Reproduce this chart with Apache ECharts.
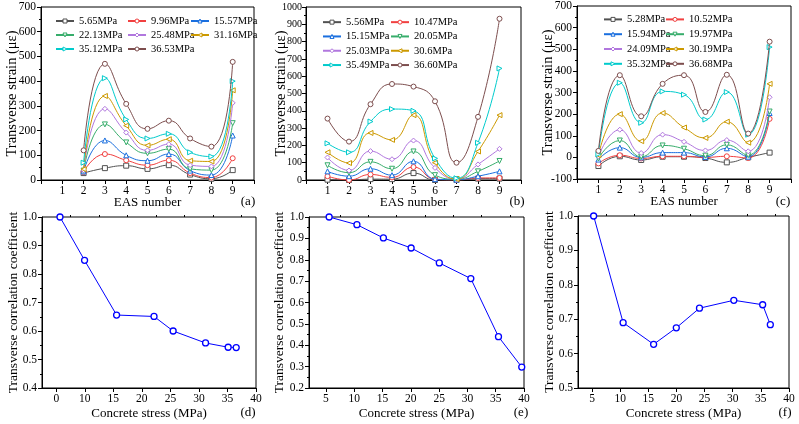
<!DOCTYPE html>
<html>
<head>
<meta charset="utf-8">
<script src="https://cdn.jsdelivr.net/npm/echarts@6/dist/echarts.min.js"></script>
<style>
  html, body { margin: 0; padding: 0; background: #fff; }
  #main { width: 799px; height: 424px; }
</style>
</head>
<body>
<div id="main"></div>
<script>
// EAS numbers along the x axis of the top panels
var easNumbers = [1, 2, 3, 4, 5, 6, 7, 8, 9];

// panel (a)
var namesA = ['5.65MPa', '9.96MPa', '15.57MPa', '22.13MPa', '25.48MPa', '31.16MPa', '35.12MPa', '36.53MPa'];
var strainA = [
  [null, 28, 48, 58, 45, 60, 22, 5, 40],
  [null, 32, 105, 80, 60, 80, 28, 10, 88],
  [null, 35, 160, 100, 78, 105, 38, 20, 180],
  [null, 38, 225, 152, 108, 125, 45, 40, 230],
  [null, 40, 288, 192, 120, 145, 60, 55, 312],
  [null, 44, 340, 220, 140, 165, 78, 75, 363],
  [null, 70, 412, 245, 168, 187, 112, 95, 400],
  [null, 120, 470, 308, 207, 240, 168, 135, 478]
];

// panel (b)
var namesB = ['5.56MPa', '10.47MPa', '15.15MPa', '20.05MPa', '25.03MPa', '30.6MPa', '35.49MPa', '36.60MPa'];
var strainB = [
  [2, 0, 5, 5, 40, 0, 0, 8, 8],
  [22, 0, 32, 15, 75, 4, 0, 12, 12],
  [50, 22, 65, 28, 108, 5, 2, 22, 50],
  [85, 42, 105, 65, 165, 28, 5, 50, 110],
  [130, 55, 167, 120, 228, 70, 5, 90, 180],
  [160, 98, 272, 232, 375, 100, 5, 165, 375],
  [212, 160, 338, 410, 400, 125, 10, 215, 645],
  [355, 222, 438, 555, 540, 455, 100, 365, 932]
];

// panel (c)
var namesC = ['5.28MPa', '10.52MPa', '15.94MPa', '19.97MPa', '24.09MPa', '30.19MPa', '35.32MPa', '36.68MPa'];
var strainC = [
  [-40, 5, -12, 3, 3, -3, -23, 0, 22],
  [-28, 10, -5, 5, 5, 0, 5, -3, 178],
  [-10, 45, 0, 22, 22, 2, 42, 3, 205],
  [-5, 78, 3, 55, 40, 8, 58, 10, 212],
  [5, 128, 20, 105, 72, 32, 80, 28, 278],
  [10, 200, 75, 205, 138, 90, 165, 68, 340],
  [15, 345, 160, 305, 290, 175, 302, 105, 510],
  [30, 380, 190, 340, 380, 210, 382, 110, 535]
];

// panels (d), (e), (f): concrete stress vs correlation coefficient
var stressD = [5.65, 9.96, 15.57, 22.13, 25.48, 31.16, 35.12, 36.53];
var coefD = [1.0, 0.848, 0.656, 0.651, 0.600, 0.558, 0.543, 0.542];
var stressE = [5.56, 10.47, 15.15, 20.05, 25.03, 30.6, 35.49, 39.6];
var coefE = [1.0, 0.964, 0.902, 0.855, 0.785, 0.712, 0.440, 0.298];
var stressF = [5.28, 10.52, 15.94, 19.97, 24.09, 30.19, 35.32, 36.68];
var coefF = [1.0, 0.690, 0.627, 0.675, 0.732, 0.755, 0.742, 0.684];

var stressTicks = [5, 10, 15, 20, 25, 30, 35, 40];
var stressMinor = [7.5, 12.5, 17.5, 22.5, 27.5, 32.5, 37.5];

var colors = ['#515151', '#F14040', '#1A6FDF', '#37AD6B', '#B177DE', '#CC9900', '#00CBCC', '#7D4E4E'];
var symbols = ['rect', 'circle', 'triangle', 'triangle', 'diamond', 'triangle', 'triangle', 'circle'];
var rotates = [0, 0, 0, 180, 0, 90, -90, 0];

var FONT = 'Liberation Serif';
var mychart = echarts.init(document.getElementById('main'));

function axisBase() {
  return {
    axisLine: { show: true, onZero: false, lineStyle: { color: '#000', width: 1 } },
    axisTick: { show: true, inside: false, length: 4, lineStyle: { color: '#000' } },
    axisLabel: { color: '#000', fontFamily: FONT, fontSize: 11.5, margin: 5 },
    splitLine: { show: false },
    nameMoveOverlap: false,
    nameTextStyle: { color: '#000', fontFamily: FONT, fontSize: 13 }
  };
}

var grids = [
  { left: 41, top: 7, width: 213, height: 173 },
  { left: 306, top: 7, width: 215, height: 173 },
  { left: 577, top: 6, width: 214, height: 173 },
  { left: 42, top: 217, width: 214, height: 171 },
  { left: 309, top: 217, width: 215, height: 171 },
  { left: 578, top: 216, width: 211, height: 172 }
];
grids.forEach(function (g) {
  g.show = true;
  g.borderColor = '#000';
  g.borderWidth = 1;
  g.containLabel = false;
});

var xAxes = [];
var yAxes = [];

// top x axes: EAS number
for (var i = 0; i < 3; i++) {
  var xa = axisBase();
  xa.type = 'value';
  xa.gridIndex = i;
  xa.min = 0;
  xa.max = 10;
  xa.interval = 1;
  xa.name = 'EAS number';
  xa.nameLocation = 'middle';
  xa.nameGap = 16;
  xa.axisLabel.formatter = function (v) { return (v >= 1 && v <= 9) ? String(v) : ''; };
  xAxes.push(xa);
}
// bottom x axes: concrete stress
var stressMins = [2.5, 2, 2.5];
for (var j = 0; j < 3; j++) {
  var xb = axisBase();
  xb.type = 'value';
  xb.gridIndex = 3 + j;
  xb.min = stressMins[j];
  xb.max = 40;
  xb.name = 'Concrete stress (MPa)';
  xb.nameLocation = 'middle';
  xb.nameGap = 19;
  xb.axisTick.customValues = stressTicks;
  xb.axisLabel.customValues = stressTicks;
  if (j === 0) {
    xb.axisLabel.formatter = function (v) { return v === 5 ? '0' : String(v); };
  }
  xAxes.push(xb);
}
// bottom minor tick axes
for (var k = 0; k < 3; k++) {
  xAxes.push({
    type: 'value',
    gridIndex: 3 + k,
    min: stressMins[k],
    max: 40,
    axisLine: { show: false, onZero: false },
    axisLabel: { show: false },
    splitLine: { show: false },
    axisTick: { show: true, length: 2, customValues: stressMinor, lineStyle: { color: '#000' } }
  });
}

var yRanges = [[0, 700, 100], [0, 1000, 100], [-100, 700, 100], [0.4, 1.0, 0.1], [0.2, 1.0, 0.1], [0.5, 1.0, 0.1]];
var yNameGaps = [21, 17, 21, 22, 23, 22];
for (var m = 0; m < 6; m++) {
  var ya = axisBase();
  ya.type = 'value';
  ya.gridIndex = m;
  ya.min = yRanges[m][0];
  ya.max = yRanges[m][1];
  ya.interval = yRanges[m][2];
  ya.name = m < 3 ? 'Transverse strain (\u03bc\u03b5)' : 'Transverse correlation coefficient';
  ya.nameLocation = 'middle';
  ya.nameGap = yNameGaps[m];
  ya.nameTextStyle.fontSize = m < 3 ? 14.5 : 13.5;
  ya.minorTick = { show: true, splitNumber: 2, length: 2, lineStyle: { color: '#000' } };
  if (m >= 3) {
    ya.axisLabel.formatter = function (v) { return v.toFixed(1); };
  } else {
    ya.axisLabel.formatter = function (v) { return String(v); };
  }
  if (m === 1) {
    ya.axisLabel.fontSize = 10;
    ya.axisLabel.margin = 4;
  }
  yAxes.push(ya);
}

var series = [];
function addStrainSeries(names, strains, axisIdx) {
  names.forEach(function (nm, s) {
    var pts = [];
    easNumbers.forEach(function (x, q) {
      if (strains[s][q] !== null) pts.push([x, strains[s][q]]);
    });
    series.push({
      name: nm,
      type: 'line',
      xAxisIndex: axisIdx,
      yAxisIndex: axisIdx,
      smooth: 0.5,
      symbol: symbols[s],
      symbolRotate: rotates[s],
      symbolSize: 5,
      lineStyle: { width: 1, color: colors[s] },
      itemStyle: { color: '#fff', borderColor: colors[s], borderWidth: 1 },
      z: 2 + s,
      data: pts
    });
  });
}
addStrainSeries(namesA, strainA, 0);
addStrainSeries(namesB, strainB, 1);
addStrainSeries(namesC, strainC, 2);

function addCoefSeries(stress, coef, idx) {
  series.push({
    name: 'coef' + idx,
    type: 'line',
    xAxisIndex: idx,
    yAxisIndex: idx,
    symbol: 'circle',
    symbolSize: 6,
    lineStyle: { width: 1, color: '#0000ff' },
    itemStyle: { color: '#fff', borderColor: '#0000ff', borderWidth: 1.3 },
    data: stress.map(function (x, q) { return [x, coef[q]]; })
  });
}
addCoefSeries(stressD, coefD, 3);
addCoefSeries(stressE, coefE, 4);
addCoefSeries(stressF, coefF, 5);

function legendCol(data, left, top, rowH) {
  return {
    data: data,
    orient: 'vertical',
    left: left,
    top: top,
    itemWidth: 18,
    itemHeight: 5,
    itemGap: 0,
    padding: 0,
    selectedMode: false,
    itemStyle: { color: '#fff', borderWidth: 1 },
    textStyle: { color: '#000', fontFamily: FONT, fontSize: 10.5, lineHeight: rowH, padding: [0, 0, 0, 0] }
  };
}
var legends = [
  legendCol([namesA[0], namesA[3], namesA[6]], 55, 14, 14),
  legendCol([namesA[1], namesA[4], namesA[7]], 127, 14, 14),
  legendCol([namesA[2], namesA[5]], 190, 14, 14),
  legendCol([namesB[0], namesB[2], namesB[4], namesB[6]], 322, 15, 14.3),
  legendCol([namesB[1], namesB[3], namesB[5], namesB[7]], 390, 15, 14.3),
  legendCol([namesC[0], namesC[2], namesC[4], namesC[6]], 603, 12, 14.8),
  legendCol([namesC[1], namesC[3], namesC[5], namesC[7]], 665, 12, 14.8)
];

var panelTags = [['(a)', 248, 202], ['(b)', 517, 202], ['(c)', 783, 202], ['(d)', 248, 413], ['(e)', 521, 413], ['(f)', 785, 413]];
var graphics = panelTags.map(function (t) {
  return {
    type: 'text',
    x: t[1],
    y: t[2],
    style: { text: t[0], fill: '#000', font: '13px "' + FONT + '"', textAlign: 'center', textVerticalAlign: 'middle' }
  };
});

var option = {
  backgroundColor: '#fff',
  animation: false,
  grid: grids,
  xAxis: xAxes,
  yAxis: yAxes,
  legend: legends,
  graphic: graphics,
  series: series
};
mychart.setOption(option);
</script>
</body>
</html>
